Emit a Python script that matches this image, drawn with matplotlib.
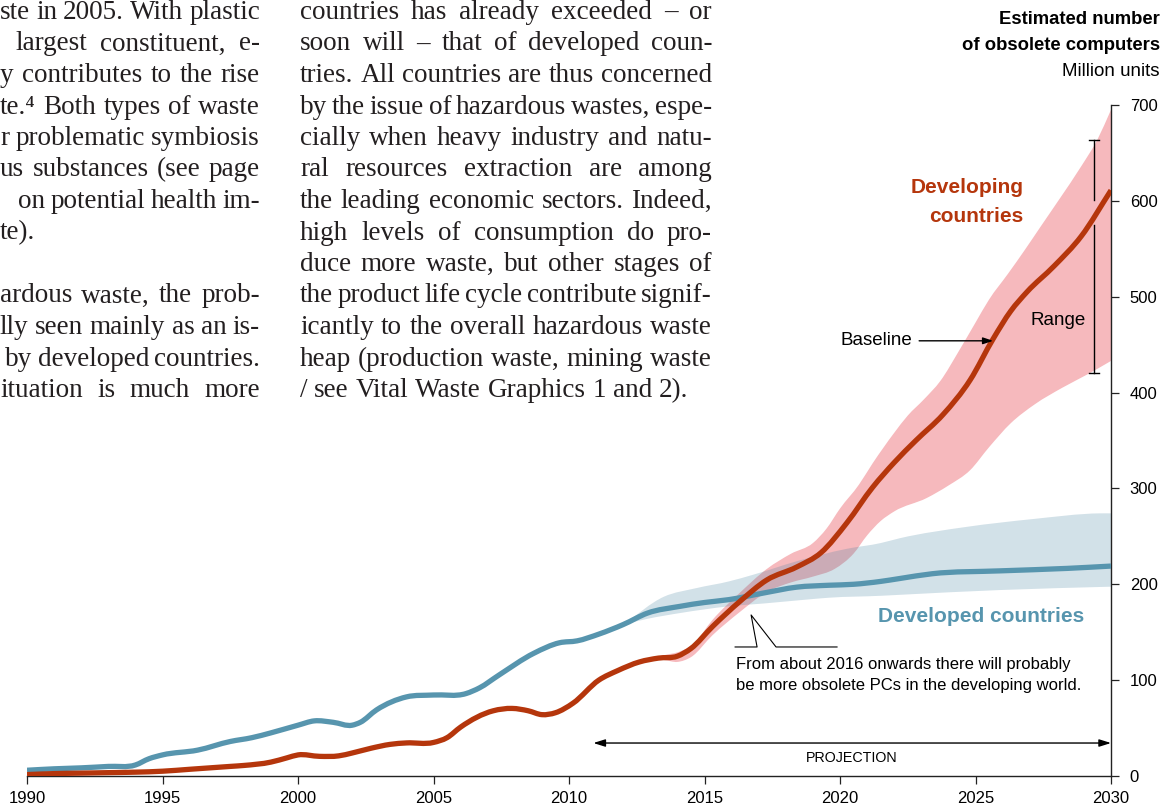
import numpy as np
import matplotlib.pyplot as plt
from matplotlib.path import Path
from matplotlib.patches import PathPatch
from matplotlib.transforms import IdentityTransform

plt.rcParams['font.family'] = ['Liberation Sans', 'DejaVu Sans']

# --- data (million units) ---
dvg_years = [1990, 1991, 1992, 1993, 1994, 1995, 1996, 1996.5, 1997.5, 1998, 1999,
             1999.6, 2000, 2000.8, 2001.5, 2002, 2002.7, 2003.4, 2004, 2005, 2005.5,
             2006, 2007.2, 2007.9, 2008.5, 2009, 2009.5, 2010.15, 2011.1, 2011.8,
             2012.6, 2013.3, 2014, 2014.5, 2015.3, 2016.3, 2017.3, 2018.4, 2019.3,
             2020.25, 2021.2, 2022, 2022.8, 2023.8, 2024.8, 2025.65, 2026.3, 2026.9,
             2027.9, 2028.9, 2030]
dvg_base = [1.5, 2.5, 3, 3.5, 4, 5, 7, 8, 10, 11, 14.5,
            19, 22, 20.5, 21, 24, 29, 33, 34.5, 35, 40,
            51, 68, 70.5, 68, 64, 66, 76, 100, 110,
            119, 123, 125, 133, 156, 182, 204.5, 218, 233,
            264, 301, 327, 350, 377, 413, 456, 485, 505,
            532, 563, 611]

dvg_up_years = [2012.6, 2013.5, 2014.1, 2014.6, 2015.3, 2016.3, 2017.3, 2018.2, 2019.0,
                2019.5, 2020.0, 2020.7, 2021.2, 2022.0, 2022.5, 2023.1, 2023.7, 2024.4,
                2025.0, 2025.5, 2026.2, 2026.8, 2027.4, 2028.1, 2028.9, 2029.5, 2030]
dvg_up = [119, 126, 130, 138, 163, 191, 216, 232, 243,
          258, 279, 304, 326, 358, 376, 393, 412, 444,
          473, 497, 524, 548, 573, 602, 636, 664, 695]
dvg_low_years = [2012.6, 2013.5, 2014.0, 2014.5, 2015.3, 2016.3, 2017.3, 2018.2, 2019.0,
                 2019.8, 2020.5, 2021.0, 2021.5, 2022.0, 2023.2, 2024.0, 2024.8, 2025.5,
                 2026.3, 2027.2, 2028.2, 2029.2, 2030]
dvg_low = [119, 121, 119, 124, 147, 171, 192, 202, 208,
           216, 232, 251, 266, 276, 290, 303, 319, 343,
           368, 388, 405, 420, 433]

dvd_years = [1990, 1991, 1992, 1993, 1994, 1994.5, 1995, 1996.3, 1997.5, 1998.3, 1999,
             2000, 2000.6, 2001.3, 2002, 2002.3, 2002.9, 2004, 2005, 2006.2, 2006.7,
             2007.4, 2008.7, 2009.65, 2010.3, 2011.1, 2012, 2012.9, 2014.1, 2015,
             2015.9, 2017.2, 2018.4, 2019.6, 2020.5, 2021.5, 2022.2, 2023.4, 2025.9,
             2028.4, 2030]
dvd_base = [6, 7.5, 8.5, 10, 11.5, 18, 22, 27, 36, 40, 45,
            53, 57.5, 56, 53, 56, 69, 82.5, 84.5, 86, 92,
            105, 128, 139, 141, 148, 158, 170, 177, 181,
            184, 191, 197, 199, 200, 203, 206, 211, 214,
            216.6, 219]

dvd_up_years = [2012.0, 2013.5, 2014.7, 2015.9, 2016.8, 2018.4, 2020.25, 2021.5, 2022.2,
                2024.7, 2027.1, 2029.6, 2030]
dvd_up = [158, 187, 196, 203, 210, 224, 237, 243, 248, 260, 268, 274, 274]
dvd_low_years = [2012.0, 2012.9, 2014.1, 2015.9, 2017.2, 2018.75, 2019.6, 2021.5, 2022.2,
                 2025.9, 2030]
dvd_low = [158, 164, 170, 177, 180, 184, 186, 188, 189, 194, 197.5]

x_ticks = [1990, 1995, 2000, 2005, 2010, 2015, 2020, 2025, 2030]
y_ticks = [0, 100, 200, 300, 400, 500, 600, 700]

# --- body text (two justified columns, the left one cut by the page edge) ---
left_col = [
    (0, "ste in 2005. With plastic", True),
    (15, "largest constituent, e-", True),
    (0, "y contributes to the rise", True),
    (0, "te.\u2074 Both types of waste", True),
    (0, "r problematic symbiosis", True),
    (0, "us substances (see page", True),
    (18, "on potential health im-", True),
    (0, "te).", False),
    None,
    (0, "ardous waste, the prob-", True),
    (0, "lly seen mainly as an is-", True),
    (22, "by developed countries.", True),
    (0, "ituation is much more", True),
]
right_col = [
    "countries has already exceeded \u2013 or",
    "soon will \u2013 that of developed coun-",
    "tries. All countries are thus concerned",
    "by the issue of hazardous wastes, espe-",
    "cially when heavy industry and natu-",
    "ral resources extraction are among",
    "the leading economic sectors. Indeed,",
    "high levels of consumption do pro-",
    "duce more waste, but other stages of",
    "the product life cycle contribute signif-",
    "icantly to the overall hazardous waste",
    "heap (production waste, mining waste",
    "/ see Vital Waste Graphics 1 and 2).",
]

W, H = 1173, 811
RED = '#b5360c'
PINK = '#f6b9bd'
BLUE = '#5795ae'
INK = '#231f20'


def smooth_verts(xs, ys):
    # cubic Hermite through the read points, handed to matplotlib as Bezier segments
    xs, ys = np.asarray(xs, float), np.asarray(ys, float)
    dx = np.diff(xs)
    s = np.diff(ys) / dx
    m = np.empty_like(ys)
    m[0], m[-1] = s[0], s[-1]
    m[1:-1] = (s[:-1] * dx[1:] + s[1:] * dx[:-1]) / (dx[:-1] + dx[1:])
    verts = [(xs[0], ys[0])]
    for i in range(len(dx)):
        h = dx[i] / 3
        verts += [(xs[i] + h, ys[i] + m[i] * h),
                  (xs[i + 1] - h, ys[i + 1] - m[i + 1] * h),
                  (xs[i + 1], ys[i + 1])]
    return verts


def curve(ax, xs, ys, **kw):
    v = smooth_verts(xs, ys)
    codes = [Path.MOVETO] + [Path.CURVE4] * (len(v) - 1)
    ax.add_patch(PathPatch(Path(v, codes), fill=False, capstyle='butt',
                           joinstyle='round', **kw))


def band(ax, ux, uy, lx, ly, **kw):
    up = smooth_verts(ux, uy)
    low = smooth_verts(lx, ly)[::-1]
    v = up + low + [up[0]]
    codes = ([Path.MOVETO] + [Path.CURVE4] * (len(up) - 1) + [Path.LINETO]
             + [Path.CURVE4] * (len(low) - 1) + [Path.CLOSEPOLY])
    ax.add_patch(PathPatch(Path(v, codes), lw=0, **kw))


fig = plt.figure(figsize=(W / 100, H / 100), dpi=100)
ax = fig.add_axes([27 / W, 35 / H, 1084 / W, 671 / H])

band(ax, dvg_up_years, dvg_up, dvg_low_years, dvg_low, facecolor=PINK, zorder=1)
band(ax, dvd_up_years, dvd_up, dvd_low_years, dvd_low, facecolor='#4582a0',
     alpha=0.24, zorder=2)
curve(ax, dvd_years, dvd_base, edgecolor=BLUE, lw=3.8, zorder=3)
curve(ax, dvg_years, dvg_base, edgecolor=RED, lw=3.8, zorder=4)

ax.set_xlim(1990, 2030)
ax.set_ylim(0, 700)
for s in ('left', 'top'):
    ax.spines[s].set_visible(False)
for s in ('bottom', 'right'):
    ax.spines[s].set_linewidth(1.0)
    ax.spines[s].set_color('#222222')
ax.yaxis.tick_right()
ax.set_xticks(x_ticks)
ax.set_yticks(y_ticks)
ax.tick_params(axis='x', direction='out', length=6, width=0.9, pad=4.5,
               labelsize=12, colors='#222222', labelcolor='black')
ax.tick_params(axis='y', direction='out', length=6, width=0.9, pad=7.5,
               labelsize=12, colors='#222222', labelcolor='black')

# annotations
ax.text(2026.77, 614, "Developing", color=RED, fontsize=15, fontweight='bold',
        ha='right', va='center', zorder=6)
ax.text(2026.77, 584, "countries", color=RED, fontsize=15, fontweight='bold',
        ha='right', va='center', zorder=6)
ax.text(2025.2, 166, "Developed countries", color=BLUE, fontsize=15,
        fontweight='bold', ha='center', va='center', zorder=6)

ax.text(2022.68, 454, "Baseline", fontsize=13.5, ha='right', va='center', zorder=6)
ax.annotate('', xy=(2025.65, 454), xytext=(2022.92, 454),
            arrowprops=dict(arrowstyle='-|>,head_length=0.6,head_width=0.2',
                            color='black', lw=1, shrinkA=0, shrinkB=0), zorder=6)

rx = 2029.37
ax.plot([rx, rx], [663, 601], color='black', lw=1, zorder=6)
ax.plot([rx, rx], [575, 420], color='black', lw=1, zorder=6)
for yy in (663, 420):
    ax.plot([rx - 0.17, rx + 0.17], [yy, yy], color='black', lw=1, zorder=6)
ax.text(2028.04, 475, "Range", fontsize=13.5, ha='center', va='center', zorder=6)

ax.plot([2016.13, 2016.94, 2016.72, 2017.64, 2019.89],
        [134.6, 134.6, 168, 134.6, 134.6], color='black', lw=0.8, zorder=6)
ax.text(2016.16, 116, "From about 2016 onwards there will probably",
        fontsize=12, ha='left', va='center', zorder=6)
ax.text(2016.16, 94, "be more obsolete PCs in the developing world.",
        fontsize=12, ha='left', va='center', zorder=6)

ax.annotate('', xy=(2030, 34.4), xytext=(2010.9, 34.4),
            arrowprops=dict(arrowstyle='<|-|>,head_length=0.7,head_width=0.22',
                            color='black', lw=1, shrinkA=0, shrinkB=0), zorder=6)
ax.text(2020.44, 18.8, "PROJECTION", fontsize=10.3, ha='center', va='center')

# header of the value axis
px = IdentityTransform()
fig.text(1160, H - 19, "Estimated number", transform=px, fontsize=13.3,
         fontweight='bold', ha='right', va='center')
fig.text(1160, H - 45, "of obsolete computers", transform=px, fontsize=13.3,
         fontweight='bold', ha='right', va='center')
fig.text(1160, H - 71, "Million units", transform=px, fontsize=13.5,
         ha='right', va='center')

# justified serif body text
renderer = fig.canvas.get_renderer()
BODY_PT = 19.5
body = dict(fontsize=BODY_PT, color=INK, family=['Liberation Serif', 'DejaVu Serif'],
            ha='left', va='baseline', transform=px)
space = BODY_PT * 100 / 72 * 0.25


def put_line(line, x0, x1, ybase, justify=True, flush_right=False):
    words = line.split(' ')
    texts = [fig.text(0, 0, w, **body) for w in words]
    widths = [t.get_window_extent(renderer).width for t in texts]
    gap = space
    if justify and len(words) > 1:
        gap = (x1 - x0 - sum(widths)) / (len(words) - 1)
        if flush_right and gap < 0.75 * space:
            # cut line too long for the measure: keep it flush right
            gap = 0.75 * space
            x0 = x1 - sum(widths) - gap * (len(words) - 1)
    x = x0
    for t, w in zip(texts, widths):
        t.set_position((x, H - ybase))
        x += w + gap


for i, item in enumerate(left_col):
    if item is None:
        continue
    x0, line, just = item
    put_line(line, x0, 260, 19 + 31.5 * i, just, flush_right=True)

for i, line in enumerate(right_col):
    put_line(line, 300, 712, 19 + 31.5 * i, i < len(right_col) - 1)

fig.savefig('out.png', dpi=100)
